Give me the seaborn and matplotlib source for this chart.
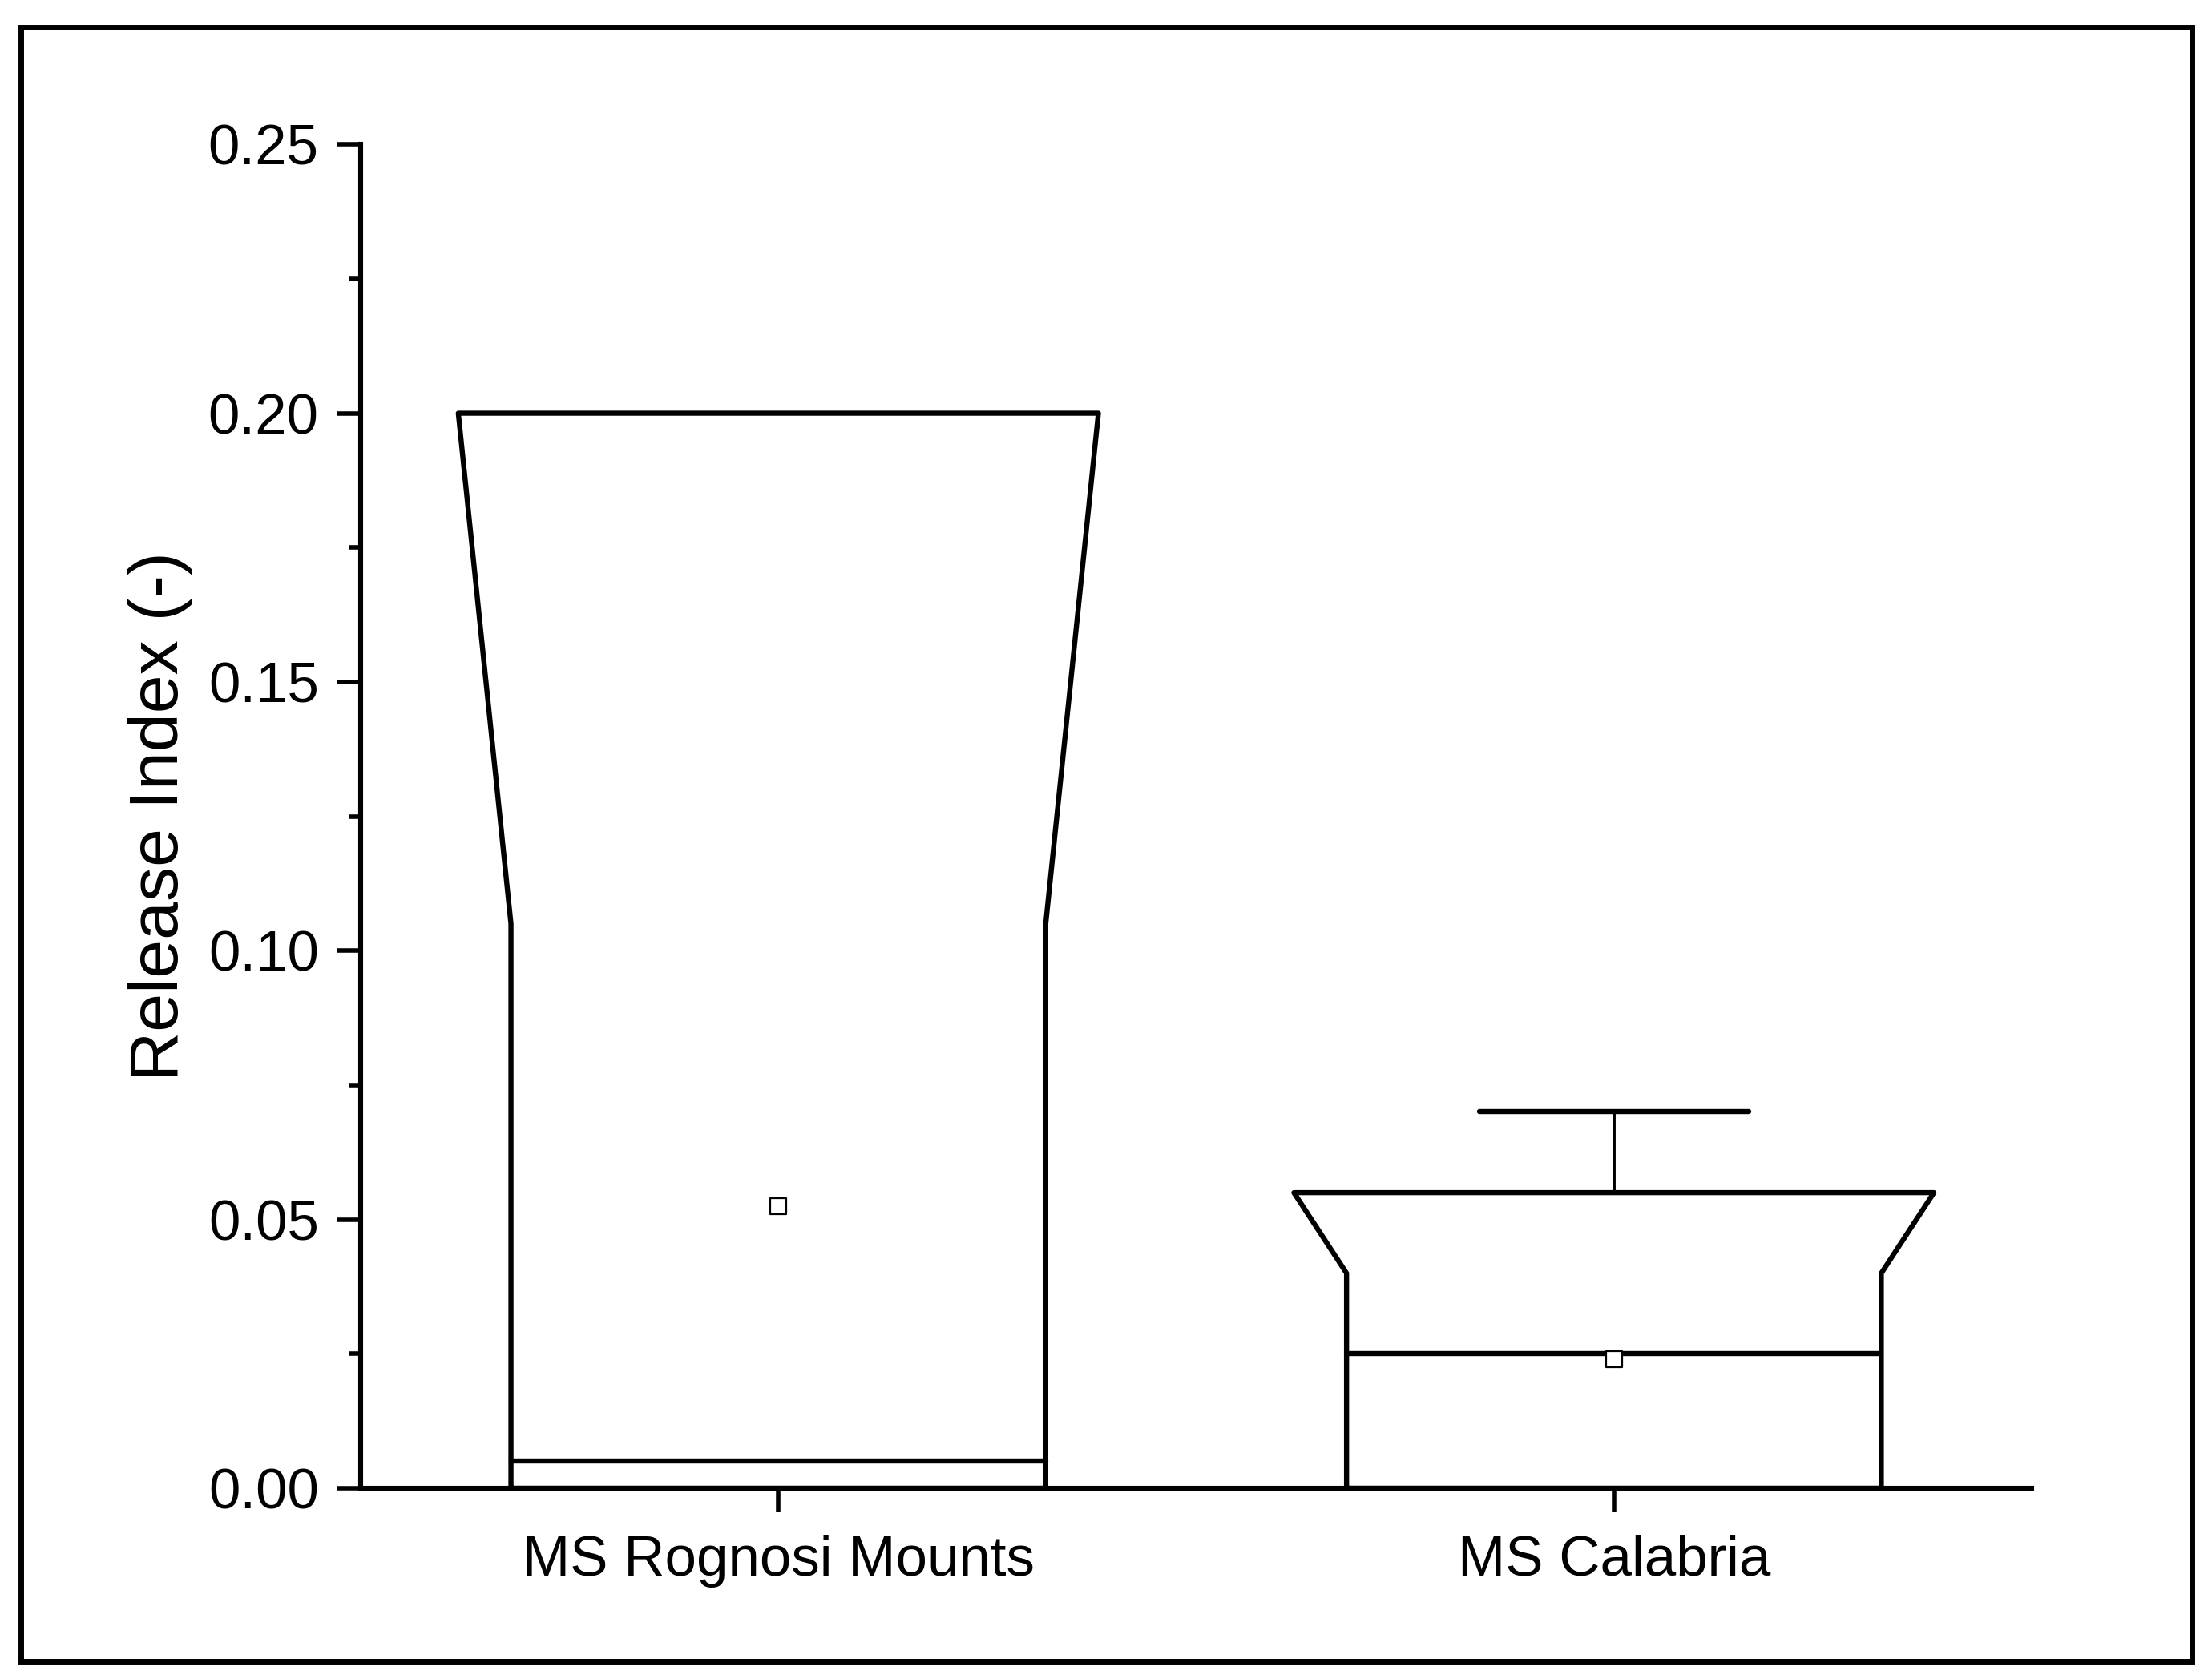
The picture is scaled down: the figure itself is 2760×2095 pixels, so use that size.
import matplotlib
matplotlib.use("Agg")
import matplotlib.pyplot as plt
import pandas as pd
import seaborn as sns
from matplotlib.patches import Rectangle
from matplotlib.ticker import FormatStrFormatter, MultipleLocator

# box statistics (Origin-style notched boxes)
SITES = ["MS Rognosi Mounts", "MS Calabria"]
Q1 = [0.0, 0.0]
MEDIAN = [0.005, 0.025]
Q3 = [0.200, 0.055]
NOTCH_TOP = [0.105, 0.040]
WHISKER_HI = [0.200, 0.070]
MEAN = [0.0525, 0.024]

BOX_HALF = 0.383
NOTCH_HALF = 0.320
CAP_HALF = 0.161

sns.set_theme(style="ticks")
plt.rcParams["font.family"] = ["Liberation Sans", "DejaVu Sans"]
plt.rcParams["text.color"] = "black"
plt.rcParams["axes.labelcolor"] = "black"

fig, ax = plt.subplots(figsize=(13.8, 10.475), dpi=200)
fig.subplots_adjust(left=0.163, right=0.9185, bottom=0.1136, top=0.914)

means = pd.DataFrame({"site": SITES, "mean": MEAN})
sns.stripplot(data=means, x="site", y="mean", order=SITES, jitter=False,
              marker="s", size=7, color="white", edgecolor="black",
              linewidth=0.8, zorder=5, ax=ax)

for i in range(len(SITES)):
    xs = [i - NOTCH_HALF, i - NOTCH_HALF, i - BOX_HALF, i + BOX_HALF,
          i + NOTCH_HALF, i + NOTCH_HALF, i - NOTCH_HALF]
    ys = [Q1[i], NOTCH_TOP[i], Q3[i], Q3[i], NOTCH_TOP[i], Q1[i], Q1[i]]
    ax.plot(xs, ys, color="black", lw=2.3, clip_on=False, zorder=3)
    ax.plot([i - NOTCH_HALF, i + NOTCH_HALF], [MEDIAN[i], MEDIAN[i]],
            color="black", lw=2.3, zorder=3)
    if WHISKER_HI[i] > Q3[i]:
        ax.plot([i, i], [Q3[i], WHISKER_HI[i]], color="black", lw=1.4, zorder=3)
        ax.plot([i - CAP_HALF, i + CAP_HALF], [WHISKER_HI[i], WHISKER_HI[i]],
                color="black", lw=2.3, solid_capstyle="round", zorder=3)

ax.set_xlim(-0.5, 1.5)
ax.set_ylim(0, 0.25)
ax.yaxis.set_major_locator(MultipleLocator(0.05))
ax.yaxis.set_minor_locator(MultipleLocator(0.025))
ax.yaxis.set_major_formatter(FormatStrFormatter("%.2f"))
ax.set_xlabel("")
ax.set_ylabel("Release Index (-)", fontsize=31, labelpad=7, color="black")

sns.despine(ax=ax)
for side in ["left", "bottom"]:
    ax.spines[side].set_linewidth(2.2)
    ax.spines[side].set_color("black")
ax.tick_params(axis="y", which="major", length=10.8, width=2.0,
               labelsize=25.5, pad=8, color="black", labelcolor="black")
ax.tick_params(axis="x", which="major", length=10.8, width=2.0,
               labelsize=25.5, pad=10, color="black", labelcolor="black")
ax.tick_params(axis="y", which="minor", length=5.4, width=2.0, color="black")

fig.patches.append(Rectangle((0.0094, 0.0105), 0.9815, 0.9735,
                             transform=fig.transFigure, fill=False,
                             lw=2.5, edgecolor="black"))

fig.savefig("out.png", dpi=200)
